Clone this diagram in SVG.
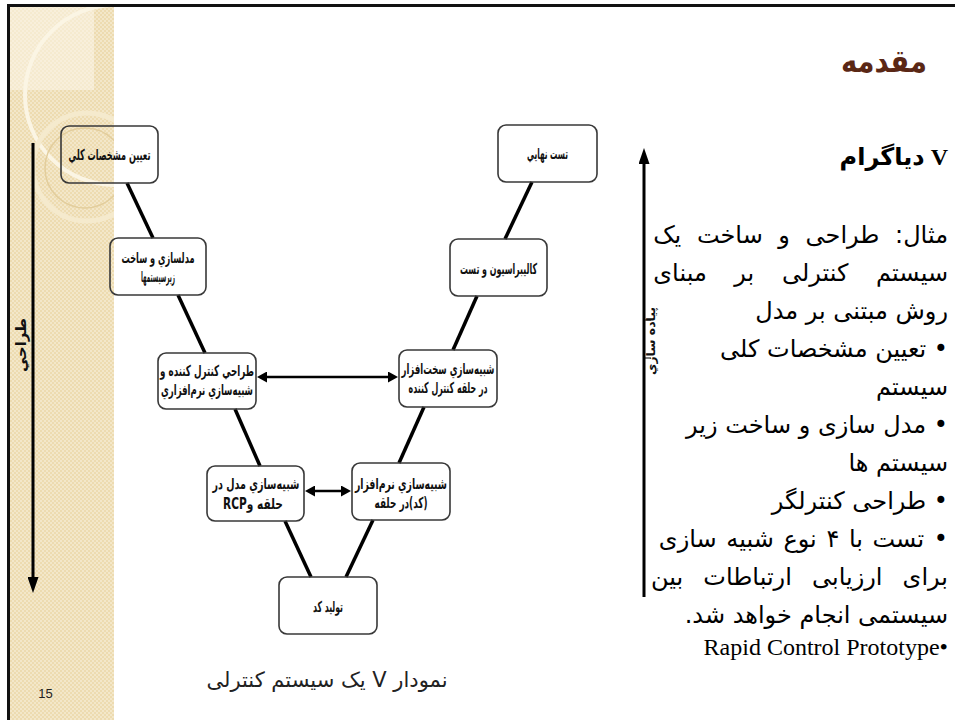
<svg xmlns="http://www.w3.org/2000/svg" width="955" height="720" viewBox="0 0 955 720">
<defs>
<style>
.box{fill:none;stroke:#383838;stroke-width:1.6}
.conn{stroke:#000;stroke-width:3.5;fill:none}
.harr{stroke:#000;stroke-width:2.5;fill:none}
.varr{stroke:#000;stroke-width:3;fill:none}
.bt{font-family:'DejaVu Sans',sans-serif;font-size:15px;font-weight:bold;fill:#111}
.body{font-family:'DejaVu Sans',sans-serif;font-size:24px;fill:#000}
</style>
<pattern id="dots" width="4" height="4" patternUnits="userSpaceOnUse">
<rect width="4" height="4" fill="#eddbb0"/>
<rect x="0" y="0" width="2" height="2" fill="#f3e7c9"/>
<rect x="2" y="2" width="2" height="2" fill="#f3e7c9"/>
</pattern>
<clipPath id="strip"><rect x="10" y="7" width="104" height="713"/></clipPath>
<marker id="ah" viewBox="0 0 10 11" refX="2" refY="5.5" markerWidth="10" markerHeight="11" markerUnits="userSpaceOnUse" orient="auto-start-reverse">
<path d="M0,0 L10,5.5 L0,11 z" fill="#000"/>
</marker>
<marker id="big" viewBox="0 0 16 11" refX="3" refY="5.5" markerWidth="16" markerHeight="11" markerUnits="userSpaceOnUse" orient="auto">
<path d="M0,0 L16,5.5 L0,11 z" fill="#000"/>
</marker>
</defs>

<rect width="955" height="720" fill="#fff"/>
<g id="background">
<rect x="10" y="7" width="104" height="713" fill="url(#dots)"/>
<g clip-path="url(#strip)">
<rect x="10" y="7" width="84" height="83" fill="#fbf6ea" opacity="0.55"/>
<circle cx="115" cy="95" r="90" fill="none" stroke="#fbf5e4" stroke-width="4"/>
<circle cx="87" cy="167" r="54" fill="none" stroke="#f5eacd" stroke-width="5"/>
<circle cx="85" cy="168" r="40" fill="none" stroke="#e2cd9c" stroke-width="1.5"/>
</g>
<line x1="8.5" y1="4" x2="8.5" y2="720" stroke="#111" stroke-width="3"/>
<line x1="7" y1="5.5" x2="955" y2="5.5" stroke="#111" stroke-width="3"/>
</g>

<g id="connectors">
<line class="conn" x1="127" y1="183" x2="153" y2="238"/>
<line class="conn" x1="178" y1="295" x2="205" y2="353"/>
<line class="conn" x1="235" y1="409" x2="260" y2="466"/>
<line class="conn" x1="285" y1="521" x2="311" y2="577"/>
<line class="conn" x1="346" y1="577" x2="373" y2="520"/>
<line class="conn" x1="399" y1="463" x2="424" y2="407"/>
<line class="conn" x1="453" y1="350" x2="477" y2="296"/>
<line class="conn" x1="505" y1="239" x2="532" y2="182"/>
<line class="harr" x1="265" y1="377" x2="390" y2="377" marker-start="url(#ah)" marker-end="url(#ah)"/>
<line class="harr" x1="313" y1="491" x2="343" y2="491" marker-start="url(#ah)" marker-end="url(#ah)"/>
</g>

<g id="n1">
<rect class="box" x="61" y="126" width="97" height="57" rx="8"/>
<text class="bt" x="109.5" y="160" direction="rtl" text-anchor="middle" textLength="82" lengthAdjust="spacingAndGlyphs">تعيين مشخصات كلي</text>
</g>
<g id="n2">
<rect class="box" x="110" y="238" width="96" height="57" rx="8"/>
<text class="bt" x="158" y="263" direction="rtl" text-anchor="middle" textLength="73" lengthAdjust="spacingAndGlyphs">مدلسازي و ساخت</text>
<text class="bt" x="158" y="282" direction="rtl" text-anchor="middle" textLength="34" lengthAdjust="spacingAndGlyphs">زيرسيستمها</text>
</g>
<g id="n3">
<rect class="box" x="158" y="353" width="98" height="56" rx="8"/>
<text class="bt" x="207" y="376" direction="rtl" text-anchor="middle" textLength="94" lengthAdjust="spacingAndGlyphs">طراحي كنترل كننده و</text>
<text class="bt" x="207" y="395" direction="rtl" text-anchor="middle" textLength="92" lengthAdjust="spacingAndGlyphs">شبيه‌سازي نرم‌افزاري</text>
</g>
<g id="n4">
<rect class="box" x="207" y="466" width="97" height="55" rx="8"/>
<text class="bt" x="256" y="489" direction="rtl" text-anchor="middle" textLength="87" lengthAdjust="spacingAndGlyphs">شبيه‌سازي مدل در</text>
<text class="bt" x="253" y="509" direction="rtl" text-anchor="middle" textLength="60" lengthAdjust="spacingAndGlyphs">حلقه وRCP</text>
</g>
<g id="n5">
<rect class="box" x="279" y="577" width="98" height="57" rx="8"/>
<text class="bt" x="328" y="612" direction="rtl" text-anchor="middle" textLength="30" lengthAdjust="spacingAndGlyphs">توليد كد</text>
</g>
<g id="n6">
<rect class="box" x="352" y="463" width="98" height="57" rx="8"/>
<text class="bt" x="401" y="489" direction="rtl" text-anchor="middle" textLength="92" lengthAdjust="spacingAndGlyphs">شبيه‌سازي نرم‌افزار</text>
<text class="bt" x="401" y="508" direction="rtl" text-anchor="middle" textLength="53" lengthAdjust="spacingAndGlyphs">(كد)در حلقه</text>
</g>
<g id="n7">
<rect class="box" x="399" y="350" width="98" height="57" rx="8"/>
<text class="bt" x="448" y="374" direction="rtl" text-anchor="middle" textLength="93" lengthAdjust="spacingAndGlyphs">شبيه‌سازي سخت‌افزار</text>
<text class="bt" x="448" y="393" direction="rtl" text-anchor="middle" textLength="79" lengthAdjust="spacingAndGlyphs">در حلقه كنترل كننده</text>
</g>
<g id="n8">
<rect class="box" x="450" y="239" width="97" height="57" rx="8"/>
<text class="bt" x="498.5" y="274" direction="rtl" text-anchor="middle" textLength="77" lengthAdjust="spacingAndGlyphs">كاليبراسيون و تست</text>
</g>
<g id="n9">
<rect class="box" x="498" y="125" width="99" height="57" rx="8"/>
<text class="bt" x="547.5" y="159" direction="rtl" text-anchor="middle" textLength="41" lengthAdjust="spacingAndGlyphs">تست نهايي</text>
</g>

<g id="phases">
<line class="varr" x1="33" y1="143" x2="33" y2="580" marker-end="url(#big)"/>
<text transform="translate(26,345) rotate(-90)" x="0" y="0" class="bt" font-size="15" direction="rtl" text-anchor="middle" textLength="54" lengthAdjust="spacingAndGlyphs">طراحي</text>
<line class="varr" x1="644" y1="597" x2="644" y2="161" marker-end="url(#big)"/>
<line x1="644" y1="320" x2="651" y2="320" stroke="#000" stroke-width="1"/>
<line x1="644" y1="358" x2="651" y2="358" stroke="#000" stroke-width="1"/>
<text transform="translate(655,341) rotate(-90)" x="0" y="0" font-family="'DejaVu Sans',sans-serif" font-size="12" font-weight="bold" fill="#111" direction="rtl" text-anchor="middle" textLength="68" lengthAdjust="spacingAndGlyphs">پياده سازي</text>
</g>

<g id="caption">
<text x="327" y="687" font-family="'DejaVu Sans',sans-serif" font-size="21" fill="#222" direction="rtl" text-anchor="middle">نمودار V یک سیستم کنترلی</text>
<text x="45.5" y="698" font-family="'Liberation Sans',sans-serif" font-size="13" fill="#222" text-anchor="middle">15</text>
</g>

<g id="text">
<text x="927" y="72" font-family="'DejaVu Sans',sans-serif" font-size="31" font-weight="bold" fill="#5a2715" direction="rtl" text-anchor="start" textLength="86" lengthAdjust="spacingAndGlyphs">مقدمه</text>
<text x="948" y="165" font-family="'Liberation Serif','DejaVu Sans',serif" font-size="24" font-weight="bold" fill="#000" direction="rtl" text-anchor="start">V دیاگرام</text>
<text class="body" x="948" y="243" direction="rtl" text-anchor="start" word-spacing="8">مثال: طراحی و ساخت یک</text>
<text class="body" x="948" y="281" direction="rtl" text-anchor="start" word-spacing="20">سیستم کنترلی بر مبنای</text>
<text class="body" x="948" y="319" direction="rtl" text-anchor="start">روش مبتنی بر مدل</text>
<text class="body" x="948" y="357" direction="rtl" text-anchor="start">• تعیین مشخصات کلی</text>
<text class="body" x="948" y="395" direction="rtl" text-anchor="start">سیستم</text>
<text class="body" x="948" y="433" direction="rtl" text-anchor="start">• مدل سازی و ساخت زیر</text>
<text class="body" x="948" y="471" direction="rtl" text-anchor="start">سیستم ها</text>
<text class="body" x="948" y="509" direction="rtl" text-anchor="start">• طراحی کنترلگر</text>
<text class="body" x="948" y="547" direction="rtl" text-anchor="start" word-spacing="2">• تست با ۴ نوع شبیه سازی</text>
<text class="body" x="948" y="585" direction="rtl" text-anchor="start" word-spacing="12.5">برای ارزیابی ارتباطات بین</text>
<text class="body" x="948" y="623" direction="rtl" text-anchor="start">سیستمی انجام خواهد شد.</text>
<text x="948" y="655" font-family="'Liberation Serif',serif" font-size="24" fill="#000" text-anchor="end">Rapid Control Prototype•</text>
</g>
</svg>
